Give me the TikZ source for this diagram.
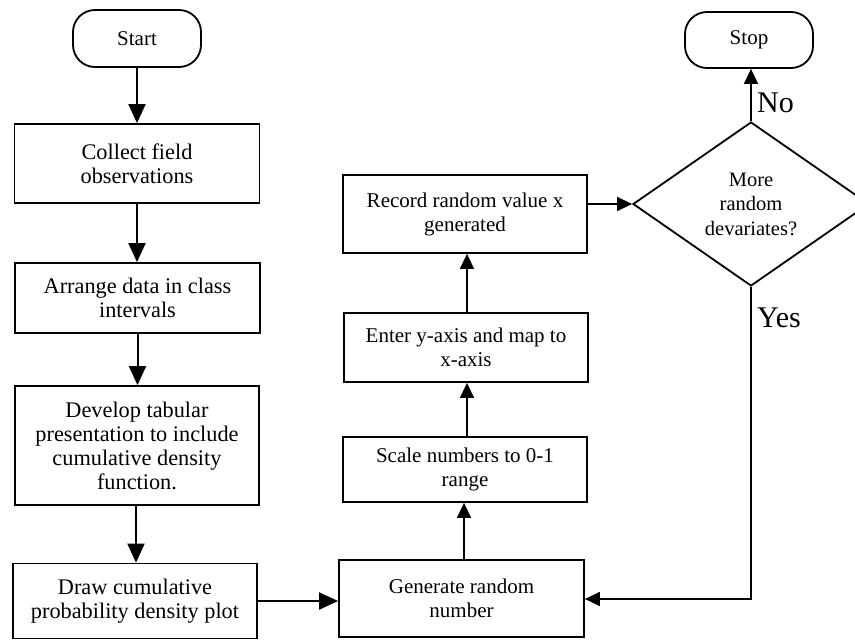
\documentclass[tikz,border=0pt]{standalone}
\usepackage{fontspec}
\setmainfont{Liberation Serif}
\usetikzlibrary{shapes.geometric,arrows.meta}
\begin{document}
\begin{tikzpicture}[x=1pt,y=-1pt,
  box/.style={draw, line width=1.8pt, align=center, inner sep=0pt,
    font=\fontsize{21}{24}\selectfont},
  prepbox/.style={box, font=\fontsize{22.3}{24}\selectfont},
  term/.style={box, rounded corners=22pt},
  decision/.style={draw, diamond, line width=1.8pt, inner sep=0pt, align=center,
    font=\fontsize{20.5}{24.5}\selectfont, aspect=1.44,
    minimum width=236pt, minimum height=164pt},
  bigflow/.style={line width=2pt, -{Triangle[length=19pt,width=17pt]}},
  flow/.style={line width=1.5pt, -{Triangle[length=15pt,width=14pt]}},
  lbl/.style={font=\fontsize{30}{30}\selectfont, inner sep=0pt, anchor=base west}
]
\useasboundingbox (0,0) rectangle (855,640);
\clip (0,0) rectangle (855,640);

% left column: data preparation
\node[term, minimum width=128pt, minimum height=57pt] (start) at (137,38.5) {Start};
\node[prepbox, minimum width=245pt, minimum height=79pt] (collect) at (137,163.5)
  {Collect field\\observations};
\node[prepbox, minimum width=245pt, minimum height=70pt] (arrange) at (137.5,298)
  {Arrange data in class\\intervals};
\node[prepbox, minimum width=244pt, minimum height=119pt] (develop) at (137,445.5)
  {Develop tabular\\presentation to include\\cumulative density\\function.};
\node[prepbox, minimum width=244pt, minimum height=75pt] (plot) at (135,601)
  {Draw cumulative\\probability density plot};

% middle column: sampling loop
\node[box, minimum width=245pt, minimum height=77pt] (gen) at (461.5,598.5)
  {Generate random\\number};
\node[box, minimum width=244pt, minimum height=65pt] (scale) at (465,469.5)
  {Scale numbers to 0-1\\range};
\node[box, minimum width=244pt, minimum height=69pt] (enter) at (466,347.5)
  {Enter y-axis and map to\\x-axis};
\node[box, minimum width=244pt, minimum height=78pt] (record) at (465,214)
  {Record random value x\\generated};

% right column: decision and end
\node[decision] (more) at (751,204) {More\\random\\devariates?};
\node[term, minimum width=128pt, minimum height=56pt] (stop) at (749,40) {Stop};
\coordinate (loop) at (751,599);

% connectors
\draw[bigflow] (start.south) -- (start.south |- collect.north);
\draw[bigflow] (collect.south) -- (collect.south |- arrange.north);
\draw[bigflow] (arrange.south) -- (arrange.south |- develop.north);
\draw[bigflow] ([xshift=-1pt]develop.south) -- ([xshift=-1pt]develop.south |- plot.north);
\draw[bigflow] (plot.east) -- (plot.east -| gen.west);
\draw[flow] ([xshift=2.5pt]gen.north) -- ([xshift=2.5pt]gen.north |- scale.south);
\draw[flow] ([xshift=2pt]scale.north) -- ([xshift=2pt]scale.north |- enter.south);
\draw[flow] ([xshift=1pt]enter.north) -- ([xshift=1pt]enter.north |- record.south);
\draw[flow] (record.east |- more.west) -- (more.west);
\draw[flow] (more.north) -- (more.north |- stop.south);
\draw[flow] (more.south) -- (loop) -- (loop -| gen.east);

% branch labels
\node[lbl] (no) at (757,112) {No};
\node[lbl] (yes) at (757,327) {Yes};
\end{tikzpicture}
\end{document}
